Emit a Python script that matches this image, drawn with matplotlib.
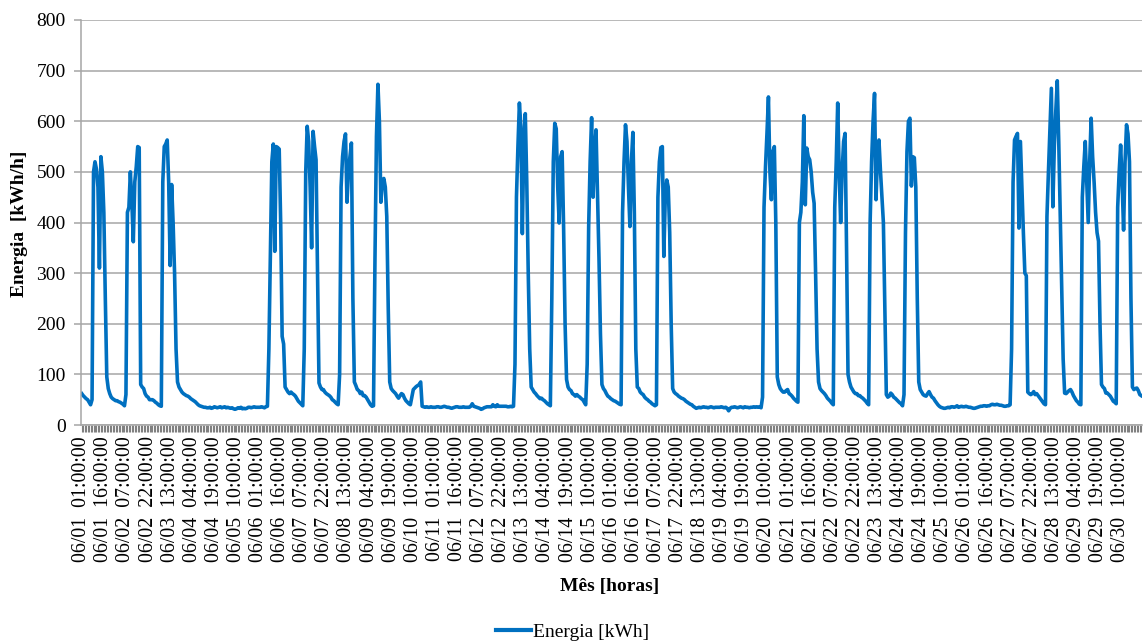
import numpy as np
import pandas as pd
import matplotlib
matplotlib.use('Agg')
import matplotlib.pyplot as plt
from matplotlib.ticker import MultipleLocator
from matplotlib.lines import Line2D

plt.rcParams['font.family'] = ['Liberation Serif', 'DejaVu Serif']

# energia horaria de junho [kWh], 24 valores por dia (01:00 ... 24:00)
energia = [
    62, 58, 55, 52, 50, 45, 40, 50, 500, 520, 505, 470, 310, 530, 500, 420, 250, 95, 72, 62, 55, 52, 50, 48,    # 06/01
    48, 46, 45, 43, 41, 38, 60, 420, 430, 500, 440, 362, 480, 510, 550, 548, 80, 75, 72, 62, 57, 55, 50, 50,    # 06/02
    50, 48, 45, 43, 40, 38, 37, 480, 550, 555, 563, 480, 315, 475, 400, 300, 150, 85, 75, 70, 65, 62, 60, 58,   # 06/03
    57, 55, 52, 50, 48, 46, 43, 40, 38, 37, 36, 35, 35, 34, 34, 35, 33, 34, 36, 35, 34, 35, 36, 34,             # 06/04
    35, 36, 34, 35, 34, 33, 34, 32, 31, 32, 34, 33, 35, 32, 33, 32, 33, 35, 35, 34, 35, 36, 35, 35,             # 06/05
    35, 35, 36, 35, 34, 36, 37, 150, 330, 520, 555, 343, 550, 548, 545, 400, 175, 160, 75, 70, 65, 62, 65, 62,  # 06/06
    60, 57, 52, 47, 44, 41, 38, 150, 500, 590, 560, 470, 350, 580, 550, 524, 300, 83, 75, 70, 70, 65, 62, 60,   # 06/07
    58, 55, 50, 48, 45, 42, 40, 100, 470, 530, 560, 575, 440, 500, 530, 557, 250, 85, 78, 70, 68, 62, 65, 58,   # 06/08
    58, 55, 50, 45, 40, 37, 38, 330, 570, 673, 600, 440, 480, 487, 470, 412, 230, 85, 72, 68, 65, 62, 57, 53,   # 06/09
    58, 62, 60, 53, 48, 45, 42, 40, 55, 70, 73, 76, 78, 80, 85, 37, 36, 35, 36, 35, 35, 36, 35, 35,             # 06/10
    35, 36, 36, 35, 35, 36, 37, 36, 35, 35, 34, 33, 34, 35, 36, 36, 35, 35, 35, 36, 35, 35, 35, 35,             # 06/11
    37, 42, 37, 36, 35, 34, 33, 31, 32, 34, 35, 36, 36, 36, 36, 40, 37, 36, 40, 37, 37, 37, 37, 37,             # 06/12
    37, 36, 36, 37, 36, 37, 120, 450, 550, 636, 590, 378, 560, 615, 480, 300, 150, 75, 70, 65, 62, 58, 55, 52,  # 06/13
    53, 50, 48, 45, 42, 40, 38, 250, 520, 596, 585, 470, 399, 530, 540, 390, 200, 90, 75, 70, 68, 62, 60, 57,   # 06/14
    60, 57, 55, 52, 50, 45, 40, 120, 392, 520, 607, 450, 540, 583, 458, 330, 180, 80, 72, 68, 62, 57, 55, 52,   # 06/15
    50, 48, 47, 45, 43, 41, 40, 420, 520, 593, 560, 470, 392, 520, 578, 420, 150, 75, 72, 65, 62, 60, 55, 52,   # 06/16
    50, 47, 45, 42, 40, 38, 40, 450, 520, 548, 550, 333, 450, 484, 470, 380, 200, 72, 65, 62, 60, 57, 55, 53,   # 06/17
    52, 50, 47, 45, 43, 41, 40, 37, 35, 33, 34, 35, 34, 35, 36, 35, 35, 34, 35, 36, 35, 34, 35, 35,             # 06/18
    35, 35, 36, 35, 34, 35, 33, 28, 33, 35, 35, 36, 35, 34, 35, 36, 35, 34, 36, 35, 35, 34, 35, 35,             # 06/19
    36, 35, 36, 35, 36, 34, 55, 430, 510, 576, 648, 500, 445, 540, 550, 400, 95, 80, 72, 68, 65, 65, 68, 70,    # 06/20
    62, 60, 57, 53, 50, 47, 45, 400, 420, 480, 611, 435, 547, 530, 524, 500, 460, 438, 300, 150, 85, 72, 68, 65, # 06/21
    62, 58, 53, 50, 47, 43, 40, 430, 520, 636, 500, 400, 500, 560, 576, 350, 100, 85, 75, 70, 65, 62, 62, 58,   # 06/22
    58, 55, 53, 50, 47, 43, 40, 400, 520, 600, 655, 445, 530, 563, 503, 450, 400, 230, 60, 55, 57, 63, 60, 55,  # 06/23
    53, 50, 47, 44, 42, 38, 60, 380, 540, 600, 606, 472, 530, 528, 470, 250, 85, 70, 65, 60, 58, 57, 62, 66,    # 06/24
    60, 55, 53, 48, 44, 40, 37, 35, 34, 33, 33, 34, 35, 34, 36, 36, 35, 36, 38, 35, 36, 37, 36, 36,             # 06/25
    37, 36, 35, 35, 34, 33, 33, 34, 35, 36, 37, 37, 38, 38, 37, 38, 38, 40, 41, 40, 40, 41, 40, 39,             # 06/26
    39, 38, 37, 37, 38, 38, 40, 150, 480, 563, 570, 576, 389, 560, 471, 380, 300, 295, 65, 62, 60, 62, 66, 60,  # 06/27
    62, 58, 54, 50, 46, 42, 40, 412, 500, 580, 665, 431, 550, 620, 680, 560, 420, 280, 130, 63, 62, 65, 68, 70, # 06/28
    65, 58, 53, 48, 45, 41, 40, 450, 510, 560, 480, 400, 520, 606, 530, 480, 420, 380, 363, 200, 80, 75, 72, 63, # 06/29
    63, 60, 57, 52, 47, 45, 42, 430, 500, 553, 480, 385, 520, 593, 575, 520, 250, 75, 70, 72, 73, 68, 60, 58,   # 06/30
]

horas = pd.date_range('2013-06-01 01:00', periods=len(energia), freq='h')
passo_rotulo = 15
rotulos = [h.strftime('%m/%d  %H:%M:%S') for h in horas[::passo_rotulo]]

azul = '#0070C0'
cinza = '#a6a6a6'

fig = plt.figure(figsize=(11.43, 6.43), dpi=100)
ax = fig.add_axes([81 / 1143, 1 - 425 / 643, (1142 - 81) / 1143, (425 - 20) / 643])

x = np.arange(len(energia))
ax.plot(x, energia, color=azul, lw=2.6, solid_joinstyle='round')

ax.set_xlim(-0.5, len(energia) - 0.5)
ax.set_ylim(0, 800)
ax.yaxis.set_major_locator(MultipleLocator(100))
ax.grid(axis='y', color=cinza, lw=1.1)
ax.set_axisbelow(True)
for s in ['top', 'right']:
    ax.spines[s].set_visible(False)
for s in ['left', 'bottom']:
    ax.spines[s].set_color(cinza)
    ax.spines[s].set_linewidth(1.1)

ax.set_xticks(x[::passo_rotulo])
ax.set_xticklabels(rotulos, rotation=90, fontsize=14.3)
ax.set_xticks(x, minor=True)
ax.tick_params(axis='x', which='both', length=5, color='#808080', width=0.8, pad=3)
ax.tick_params(axis='y', length=5, color=cinza, width=1.1, labelsize=14, pad=6)

fig.text(20 / 1143, 1 - 224 / 643, 'Energia  [kWh/h]', rotation=90, ha='center', va='center',
         fontsize=14, fontweight='bold')
fig.text(610 / 1143, 1 - 587 / 643, 'Mês [horas]', ha='center', va='center',
         fontsize=14, fontweight='bold')

alca = Line2D([], [], color=azul, lw=3)
fig.legend([alca], ['Energia [kWh]'], loc='center', bbox_to_anchor=(573 / 1143, 1 - 632 / 643),
           frameon=False, fontsize=14, handlelength=1.8, handletextpad=0.1)

fig.savefig('out.png', dpi=100)
